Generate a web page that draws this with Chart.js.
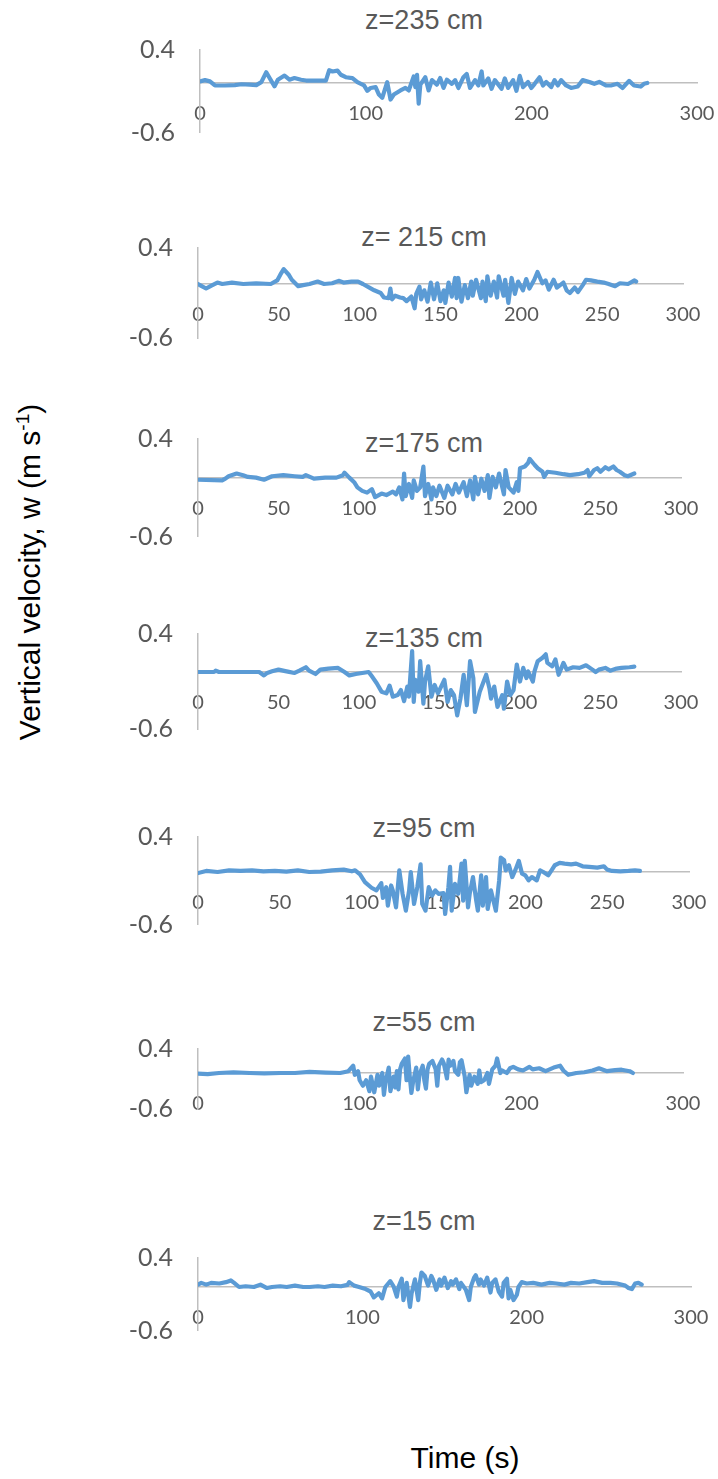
<!DOCTYPE html>
<html>
<head>
<meta charset="utf-8">
<script src="https://cdn.jsdelivr.net/npm/chart.js@4.4.0/dist/chart.umd.min.js"></script>
<style>
html,body{margin:0;padding:0;background:#fff;width:718px;height:1479px;overflow:hidden;position:relative;}
canvas{position:absolute;}
.ptitle{position:absolute;font-family:"Liberation Sans",Arial,sans-serif;font-size:27px;color:#595959;white-space:nowrap;transform:translate(-50%,-50%);line-height:1;}
#ytitle{position:absolute;left:30px;top:572px;font-family:"Liberation Sans",Arial,sans-serif;font-size:30px;color:#000;white-space:nowrap;transform:translate(-50%,-50%) rotate(-90deg);}
#ytitle sup{font-size:19px;vertical-align:super;line-height:0;}
#xtitle{position:absolute;left:465px;top:1458px;font-family:"Liberation Sans",Arial,sans-serif;font-size:30px;color:#000;white-space:nowrap;transform:translate(-50%,-50%);}
</style>
</head>
<body>
<div id="ytitle">Vertical velocity, w (m s<sup>-1</sup>)</div>
<div id="xtitle">Time (s)</div>
<script>
// ---- data: [time (s), w (m/s)] ----
const w235 = [[0,0.02],[3,0.035],[6,0.02],[9,-0.03],[15,-0.03],[21,-0.025],[25,-0.015],[30,-0.02],[34,-0.025],[37,0.01],[40,0.13],[42,0.06],[45,-0.04],[47,0.04],[51,0.09],[54,0.04],[57,0.06],[61,0.04],[64,0.03],[70,0.03],[76,0.03],[78,0.155],[80,0.14],[83,0.15],[85,0.1],[88,0.07],[92,0.06],[95,0.01],[99,-0.03],[101,-0.095],[103,-0.06],[106,-0.05],[108,-0.14],[110,-0.18],[113,0.01],[115,-0.2],[117,-0.14],[121,-0.09],[124,-0.06],[126,-0.09],[129,0.08],[130,-0.05],[131,0.1],[132,-0.25],[133,-0.02],[136,0.07],[138,-0.09],[140,0.035],[143,-0.02],[145,0.06],[147,-0.06],[149,0.04],[152,-0.01],[154,0.035],[156,-0.06],[159,0.07],[161,0.11],[163,-0.06],[166,0.035],[168,-0.03],[170,0.14],[171,-0.03],[174,0.056],[176,-0.07],[178,0.035],[182,-0.07],[184,0.056],[186,-0.06],[189,0.035],[191,-0.095],[193,0.086],[195,-0.05],[198,0.013],[200,-0.06],[202,-0.01],[205,0.069],[207,-0.03],[209,0.013],[212,-0.05],[214,0.035],[216,-0.03],[218,0.035],[221,-0.03],[224,-0.06],[228,-0.043],[231,0.035],[235,0.013],[238,-0.01],[241,0.013],[245,-0.03],[248,-0.03],[252,-0.01],[255,-0.06],[259,0.026],[262,-0.03],[266,-0.043],[268,-0.01],[270,0.0]];
const w215 = [[0,0],[2,-0.02],[5,-0.05],[8,-0.02],[12,0.016],[15,0],[21,0.016],[28,0],[36,0.008],[45,0],[49,0.04],[51,0.106],[53,0.165],[56,0.106],[58,0.047],[62,-0.024],[65,-0.012],[69,0],[74,0.027],[78,0],[83,0.008],[87,0.035],[90,0.016],[95,0.027],[99,0.027],[102,0],[106,-0.04],[109,-0.07],[113,-0.1],[115,-0.15],[118,-0.157],[119,-0.05],[120,-0.17],[122,-0.13],[125,-0.15],[127,-0.157],[129,-0.19],[132,-0.14],[134,-0.27],[135,-0.11],[137,-0.03],[138,-0.17],[140,-0.07],[142,-0.196],[144,0.016],[146,-0.17],[148,0.008],[150,-0.19],[152,-0.07],[153,-0.21],[155,0.016],[157,-0.14],[159,0.067],[160,-0.157],[161,0.067],[163,-0.196],[165,-0.012],[167,-0.157],[169,0.027],[170,-0.13],[172,0.047],[175,-0.157],[176,0.027],[178,-0.19],[179,0.086],[181,-0.13],[183,0.027],[185,-0.15],[186,0.086],[189,-0.13],[190,0.047],[192,-0.21],[194,0.067],[196,-0.11],[198,0.027],[201,-0.07],[203,0.055],[205,-0.05],[208,0.047],[210,0.133],[213,0.008],[215,0.04],[217,-0.063],[220,0.047],[222,-0.04],[226,0.016],[228,-0.07],[230,-0.1],[233,-0.04],[235,-0.09],[238,-0.012],[240,0.047],[243,0.04],[247,0.027],[251,0.016],[254,0],[258,-0.024],[261,0.008],[266,0],[270,0.04],[271,0.027]];
const w175 = [[0,-0.018],[15,-0.025],[17,-0.007],[19,0.018],[24,0.046],[28,0.029],[31,0.011],[36,0.004],[41,-0.018],[46,0.018],[53,0.029],[60,0.018],[65,0.011],[67,0.029],[72,-0.007],[79,0.004],[86,0.004],[90,0.029],[91,0.054],[94,0.004],[97,-0.043],[99,-0.096],[102,-0.132],[105,-0.15],[108,-0.114],[110,-0.196],[114,-0.16],[117,-0.175],[121,-0.139],[123,-0.168],[125,-0.096],[127,-0.22],[128,0.046],[129,-0.186],[131,-0.061],[133,-0.204],[134,-0.025],[136,-0.132],[138,-0.096],[140,0.118],[141,-0.186],[143,-0.061],[145,-0.22],[146,-0.096],[148,-0.186],[150,-0.079],[153,-0.204],[155,-0.079],[158,-0.168],[160,-0.061],[162,-0.15],[165,-0.043],[167,-0.186],[169,-0.025],[171,-0.22],[172,0.011],[174,-0.168],[176,-0.007],[178,-0.132],[180,0.029],[181,-0.204],[183,0.011],[185,-0.096],[187,0.046],[190,-0.168],[191,0.082],[193,-0.096],[196,-0.15],[198,-0.043],[199,-0.132],[200,0.1],[203,0.118],[205,0.154],[206,0.196],[209,0.136],[211,0.1],[214,0.064],[215,0.011],[217,0.064],[222,0.054],[227,0.039],[231,0.029],[236,0.039],[240,0.054],[242,0.082],[243,0.018],[246,0.082],[248,0.1],[250,0.064],[253,0.11],[255,0.089],[258,0.118],[260,0.082],[262,0.064],[265,0.029],[267,0.018],[271,0.046]];
const w135 = [[0,0],[10,0],[11,0.014],[13,0],[38,0],[41,-0.036],[43,-0.01],[46,0.007],[50,0.025],[55,0.007],[60,-0.01],[63,0.014],[67,0.05],[69,0.014],[73,-0.021],[76,0.025],[81,0.036],[87,0.043],[91,0],[94,-0.036],[98,-0.021],[102,-0.01],[106,0],[108,-0.046],[111,-0.118],[114,-0.207],[117,-0.225],[119,-0.143],[121,-0.26],[124,-0.243],[126,-0.19],[128,-0.307],[130,-0.154],[131,-0.26],[133,0.22],[134,-0.314],[135,-0.082],[137,-0.207],[138,0.114],[140,-0.332],[141,-0.1],[143,0.06],[145,-0.26],[147,-0.136],[149,-0.225],[151,-0.154],[153,-0.082],[155,-0.314],[157,-0.19],[159,-0.243],[161,-0.457],[163,-0.28],[165,-0.029],[167,-0.35],[169,0.114],[171,-0.064],[172,-0.42],[175,-0.207],[177,-0.118],[179,-0.029],[181,-0.171],[182,-0.28],[184,-0.154],[186,-0.368],[189,-0.243],[190,-0.386],[192,-0.1],[194,-0.243],[196,-0.19],[198,0.079],[200,-0.1],[202,0.043],[204,-0.064],[205,0.007],[208,-0.1],[209,0.007],[211,0.114],[214,0.15],[216,0.186],[217,0.096],[220,0.06],[222,0.132],[224,-0.029],[227,0.096],[229,0.025],[233,0.05],[237,0.043],[241,0.071],[245,0.025],[247,0],[249,0.025],[253,0.043],[256,0.014],[260,0.036],[263,0.043],[268,0.05],[271,0.057]];
const w95 = [[0,-0.012],[5,0.012],[12,0],[19,0.019],[26,0.012],[33,0.019],[40,0.008],[47,0.012],[54,0.004],[61,0.019],[68,0],[75,0.004],[82,0.019],[89,0.027],[94,0.008],[96,0.019],[99,-0.027],[102,-0.115],[106,-0.18],[109,-0.21],[112,-0.127],[113,-0.296],[115,-0.173],[116,-0.385],[118,-0.154],[119,-0.21],[121,-0.404],[123,0.019],[125,-0.25],[127,-0.442],[129,-0.21],[130,0],[132,-0.365],[134,-0.173],[136,0.088],[137,-0.365],[139,-0.442],[141,-0.173],[143,-0.27],[145,-0.21],[147,-0.25],[150,-0.242],[151,-0.48],[153,-0.173],[154,0.058],[155,-0.442],[157,-0.135],[159,-0.25],[161,0.096],[162,-0.327],[163,0.127],[165,-0.404],[166,-0.25],[168,-0.058],[170,-0.327],[171,-0.442],[173,-0.038],[174,-0.385],[176,-0.058],[177,-0.423],[179,-0.21],[180,-0.288],[182,-0.442],[184,-0.096],[185,0.165],[187,0.135],[188,0.019],[190,0.077],[192,-0.058],[194,0.027],[196,0.127],[198,-0.019],[200,-0.038],[202,-0.096],[204,-0.058],[207,-0.096],[209,0.019],[211,0],[214,-0.038],[216,0.019],[218,0.077],[221,0.104],[224,0.096],[228,0.088],[231,0.096],[235,0.065],[239,0.058],[244,0.05],[248,0.065],[250,0.027],[253,0.012],[258,0.008],[263,0.012],[267,0.019],[270,0.012]];
const w55 = [[0,-0.012],[6,-0.018],[13,0],[22,0.012],[32,0],[41,-0.006],[51,0],[60,0],[69,0.018],[79,0.006],[88,0],[93,0.03],[96,0.121],[97,-0.03],[99,0.03],[100,-0.121],[102,-0.212],[104,-0.121],[106,-0.303],[107,-0.061],[109,-0.321],[111,-0.03],[112,-0.212],[114,0],[115,-0.364],[116,-0.152],[118,0.091],[119,-0.303],[121,-0.061],[122,-0.242],[123,0.03],[124,-0.273],[125,0.061],[126,0.152],[128,0.242],[129,-0.121],[130,0.273],[131,-0.061],[132,-0.333],[133,-0.152],[135,0.091],[136,-0.273],[137,-0.03],[139,0.121],[140,-0.121],[141,-0.26],[142,0.061],[143,0.152],[145,0.2],[147,0.061],[148,-0.212],[149,0.121],[151,0.224],[152,0.164],[154,-0.091],[155,0.224],[156,0.121],[158,0.2],[159,0.03],[161,-0.03],[162,0.182],[163,0.212],[165,-0.061],[166,-0.321],[168,-0.03],[169,-0.212],[171,-0.061],[173,-0.182],[174,0.042],[175,-0.152],[177,-0.121],[179,0],[180,-0.182],[182,0.061],[184,0.121],[185,0.242],[187,0],[188,0.042],[191,0],[193,0.079],[195,0.103],[198,0.061],[201,0.042],[205,0.103],[207,0.061],[211,0.079],[215,0.03],[220,0.091],[224,0.121],[226,0.042],[229,-0.03],[234,0],[239,0.012],[244,0.042],[248,0.079],[253,0.03],[258,0.048],[262,0.055],[267,0.03],[269,0]];
const w15 = [[0,0.033],[2,0.057],[5,0.033],[8,0.057],[13,0.048],[17,0.067],[20,0.09],[22,0.057],[25,0],[29,0.01],[34,0],[38,0.033],[42,-0.014],[45,0],[50,0.01],[54,0],[59,0.019],[64,0],[68,0],[73,0.01],[77,0],[82,0.019],[87,0.01],[91,0.029],[92,0.067],[95,0.019],[98,0],[102,-0.029],[105,-0.062],[107,-0.143],[110,-0.086],[112,-0.157],[114,0],[117,0.081],[119,0.01],[121,-0.133],[122,0],[124,0.114],[125,-0.181],[127,0.057],[129,-0.276],[130,-0.086],[132,0.105],[134,-0.181],[135,0.057],[136,0.2],[138,0.152],[140,0.019],[142,0.152],[143,0.105],[145,-0.038],[147,0.105],[148,0.019],[150,0.129],[152,-0.014],[154,0.081],[155,0.033],[157,0.105],[159,-0.029],[160,0.057],[163,-0.038],[165,-0.181],[166,0],[168,0.129],[169,0.162],[171,0.033],[172,0.105],[174,0.019],[176,0.129],[178,-0.076],[179,0.057],[181,0.105],[183,-0.062],[185,-0.133],[186,0.057],[188,0.114],[189,-0.157],[190,-0.038],[192,-0.181],[194,-0.11],[195,0],[197,0.067],[200,0.048],[204,0.057],[209,0.033],[214,0.057],[218,0.048],[223,0.033],[227,0.057],[232,0.048],[237,0.067],[241,0.081],[246,0.057],[251,0.057],[255,0.048],[260,0.019],[262,-0.014],[264,-0.029],[266,0.048],[268,0.057],[270,0.033]];

const panelSeries = [w235, w215, w175, w135, w95, w55, w15];
const panelTitles = ["z=235 cm", "z= 215 cm", "z=175 cm", "z=135 cm", "z=95 cm", "z=55 cm", "z=15 cm"];
const xTickStep = [100, 50, 50, 50, 50, 100, 100];
const xRange = [0, 300];
const yRange = [-0.6, 0.4];
const yTickValues = [-0.6, 0.4];

// ---- layout (page pixels) ----
const panelLayout = [
  {titleY: 20,   T: 50,   B: 132.5,  L: 200, R: 697},
  {titleY: 237,  T: 248,  B: 338,    L: 198, R: 683},
  {titleY: 443,  T: 439,  B: 536.5,  L: 198, R: 681},
  {titleY: 638,  T: 634,  B: 729,    L: 198, R: 681},
  {titleY: 828,  T: 837,  B: 924.5,  L: 198, R: 689},
  {titleY: 1022, T: 1049, B: 1109,   L: 198, R: 683},
  {titleY: 1221, T: 1258, B: 1330.5, L: 198, R: 691}
];
const PAGE_W = 718, CANVAS_LEFT = 120, TITLE_CX = 424, Y_AXIS_W = 76;
const TICK_GRAY = '#595959', AXIS_GRAY = '#bfbfbf', LINE_BLUE = '#5b9bd5';
const XLABEL_OFFSET = 31, XFONT = 20, YFONT = 25;

panelLayout.forEach((p, i) => {
  // panel title (real text)
  const t = document.createElement('div');
  t.className = 'ptitle';
  t.textContent = panelTitles[i];
  t.style.left = TITLE_CX + 'px';
  t.style.top = p.titleY + 'px';
  document.body.appendChild(t);

  const top = Math.round(p.T - 22);
  const height = Math.round(p.B + 20 - top);
  const width = PAGE_W - CANVAS_LEFT;
  const padL = p.L - Y_AXIS_W - CANVAS_LEFT;
  const padR = PAGE_W - p.R;
  const padT = p.T - top;
  const padB = (top + height) - p.B;

  const cv = document.createElement('canvas');
  cv.width = width; cv.height = height;
  cv.style.left = CANVAS_LEFT + 'px';
  cv.style.top = top + 'px';
  cv.style.width = width + 'px';
  cv.style.height = height + 'px';
  document.body.appendChild(cv);

  const zeroPad = (s) => { s.paddingLeft = 0; s.paddingRight = 0; s.paddingTop = 0; s.paddingBottom = 0; };

  new Chart(cv, {
    type: 'line',
    data: {
      datasets: [{
        data: panelSeries[i].map(d => ({x: d[0], y: d[1]})),
        borderColor: LINE_BLUE,
        borderWidth: 4.2,
        pointRadius: 0,
        tension: 0,
        fill: false,
        borderJoinStyle: 'round',
        borderCapStyle: 'round'
      }]
    },
    options: {
      responsive: false,
      animation: false,
      devicePixelRatio: 1,
      layout: {padding: {left: padL, right: padR, top: padT, bottom: padB}},
      plugins: {
        legend: {display: false},
        tooltip: {enabled: false},
        title: {display: false}
      },
      scales: {
        x: {
          type: 'linear',
          min: xRange[0], max: xRange[1],
          position: {y: 0},
          ticks: {
            stepSize: xTickStep[i],
            color: TICK_GRAY,
            font: {family: 'Lato, "Open Sans", sans-serif', size: XFONT, lineHeight: 1.2},
            padding: XLABEL_OFFSET - XFONT * 1.2 / 2,
            maxRotation: 0,
            autoSkip: false
          },
          grid: {display: true, color: 'rgba(0,0,0,0)', drawTicks: false},
          border: {display: true, color: AXIS_GRAY, width: 1.5},
          afterFit: zeroPad
        },
        y: {
          type: 'linear',
          min: yRange[0], max: yRange[1],
          position: 'left',
          afterBuildTicks: (s) => { s.ticks = yTickValues.map(v => ({value: v})); },
          ticks: {
            color: TICK_GRAY,
            font: {family: 'Lato, "Open Sans", sans-serif', size: YFONT, lineHeight: 1.2},
            padding: 25,
            callback: (v) => String(v)
          },
          grid: {display: true, color: 'rgba(0,0,0,0)', drawTicks: false},
          border: {display: true, color: AXIS_GRAY, width: 1.5},
          afterFit: (s) => { s.width = Y_AXIS_W; zeroPad(s); }
        }
      }
    }
  });
});
</script>
</body>
</html>
